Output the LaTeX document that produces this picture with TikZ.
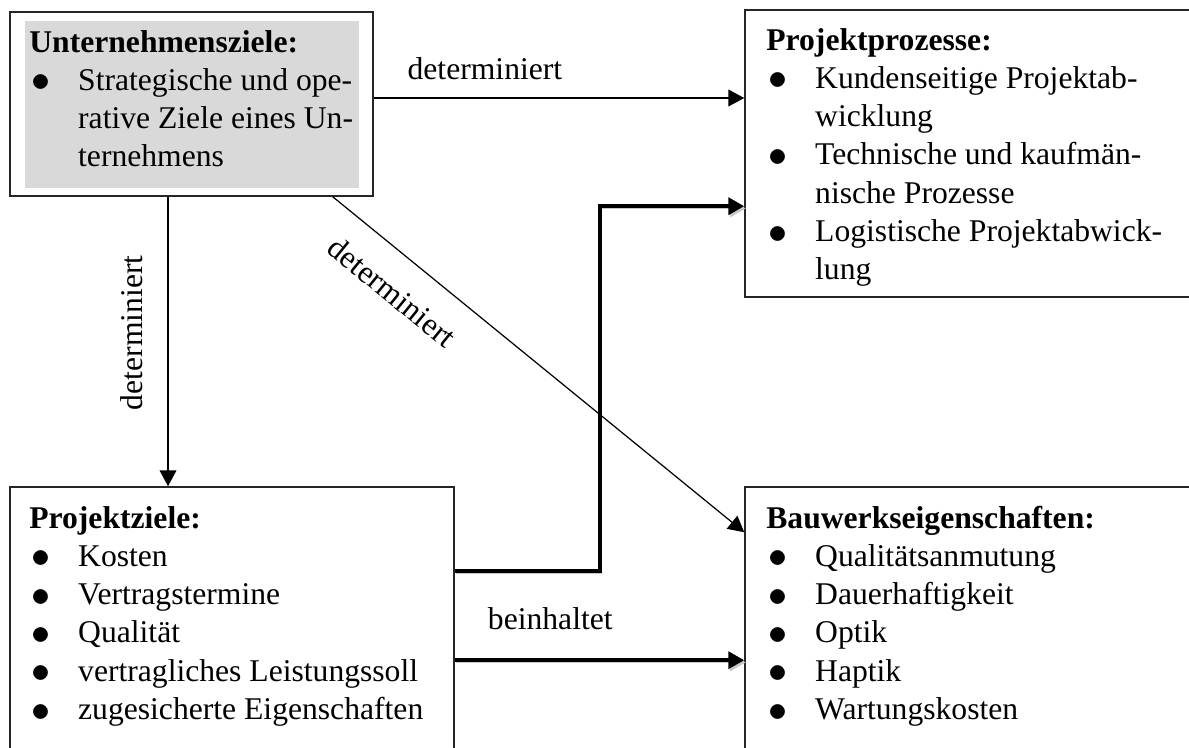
\documentclass[tikz,border=0pt]{standalone}
\usepackage{graphicx}
\usepackage{fontspec}
\setmainfont{Liberation Serif}
\usetikzlibrary{arrows.meta}
\definecolor{zielgrau}{RGB}{217,217,217}
\tikzstyle{kasten} = [draw=black!85, line width=0.9pt, rectangle, inner sep=0pt]
\tikzstyle{liste} = [anchor=base west, inner sep=0pt]
\tikzstyle{pfeil} = [draw, line width=0.7pt, -{Triangle[length=9pt,width=9.5pt]}]
\tikzstyle{dickpfeil} = [draw, line width=2.4pt, -{Triangle[length=9pt,width=9.5pt]},
    preaction={draw=black!22, transform canvas={shift={(0.9pt,-1.3pt)}}}]
\tikzstyle{beschriftung} = [inner sep=0pt]
\newcommand{\pkt}{\hspace*{1pt}\raisebox{-0.9pt}{\scalebox{1.25}{$\bullet$}}}

\begin{document}
\begin{tikzpicture}[x=0.02cm, y=-0.02cm, font=\fontsize{18}{21.8}\selectfont]
\useasboundingbox (0,0) rectangle (1189,747);
\clip (0,0) rectangle (1189,747);

\node[kasten, minimum width=7.26cm, minimum height=3.68cm] (ziele) at (191.5,104) {};
\fill[zielgrau] ([shift={(16,10)}]ziele.north west) rectangle ([shift={(-15,-9)}]ziele.south east);
\node[kasten, minimum width=9.1cm, minimum height=5.74cm] (prozesse) at (972.5,153.5) {};
\node[kasten, minimum width=8.88cm, minimum height=5.66cm] (projziele) at (232,628.5) {};
\node[kasten, minimum width=9.1cm, minimum height=5.66cm] (bauwerk) at (972.5,628.5) {};

\node[liste] (zieletext) at (29,52) {\begin{tabular}[t]{@{}p{27.8pt}@{}l@{}}
    \multicolumn{2}{@{}l@{}}{\textbf{Unternehmensziele:}}\\
    \pkt & Strategische und ope-\\
         & rative Ziele eines Un-\\
         & ternehmens
    \end{tabular}};
\node[liste] (prozessetext) at (766,50) {\begin{tabular}[t]{@{}p{27.8pt}@{}l@{}}
    \multicolumn{2}{@{}l@{}}{\textbf{Projektprozesse:}}\\
    \pkt & Kundenseitige Projektab-\\
         & wicklung\\
    \pkt & Technische und kaufmän-\\
         & nische Prozesse\\
    \pkt & Logistische Projektabwick-\\
         & lung
    \end{tabular}};
\node[liste] (projzieletext) at (29,528) {\begin{tabular}[t]{@{}p{27.8pt}@{}l@{}}
    \multicolumn{2}{@{}l@{}}{\textbf{Projektziele:}}\\
    \pkt & Kosten\\
    \pkt & Vertragstermine\\
    \pkt & Qualität\\
    \pkt & vertragliches Leistungssoll\\
    \pkt & zugesicherte Eigenschaften
    \end{tabular}};
\node[liste] (bauwerktext) at (766,528) {\begin{tabular}[t]{@{}p{27.8pt}@{}l@{}}
    \multicolumn{2}{@{}l@{}}{\textbf{Bauwerkseigenschaften:}}\\
    \pkt & Qualitätsanmutung\\
    \pkt & Dauerhaftigkeit\\
    \pkt & Optik\\
    \pkt & Haptik\\
    \pkt & Wartungskosten
    \end{tabular}};

\draw[pfeil] ([yshift=0.12cm]ziele.east) -- ([yshift=0.12cm]ziele.east -| prozesse.west)
    node[beschriftung, pos=0.3, anchor=south, inner sep=10pt] {determiniert};
\draw[pfeil] ([xshift=-0.47cm]ziele.south) -- ([xshift=-0.47cm]ziele.south |- projziele.north)
    node[beschriftung, pos=0.47, rotate=90, anchor=south, inner sep=14pt] {determiniert};
\draw[pfeil] ([xshift=-0.82cm]ziele.south east) -- ([yshift=-0.92cm]bauwerk.north west)
    node[beschriftung, pos=0.2, sloped, anchor=north, inner sep=14pt] {determiniert};

\draw[dickpfeil] ([yshift=-1.7cm]projziele.north east) -- ++(2.9cm,0) |- ([yshift=-3.94cm]prozesse.north west);
\draw[dickpfeil] ([yshift=-3.48cm]projziele.north east) -- ([yshift=-3.48cm]projziele.north east -| bauwerk.west)
    node[beschriftung, pos=0.33, anchor=south, inner sep=16pt] {beinhaltet};
\end{tikzpicture}
\end{document}
